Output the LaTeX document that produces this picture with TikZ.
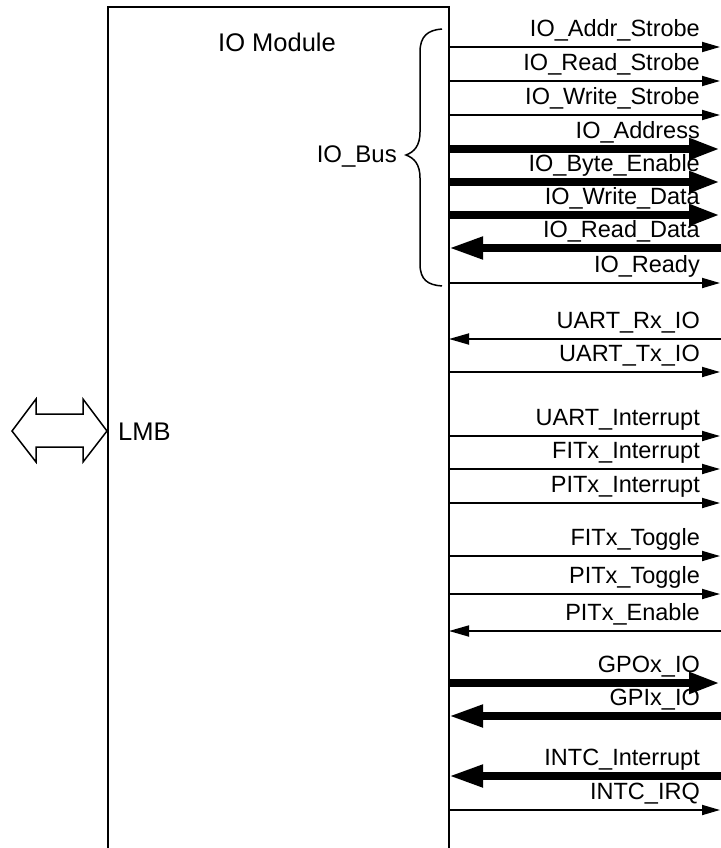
\documentclass[tikz,border=0pt]{standalone}
\usepackage{fontspec}
\setmainfont{Liberation Sans}
\usetikzlibrary{arrows.meta}
\begin{document}
\begin{tikzpicture}[x=1pt,y=-1pt,
  modbox/.style={line width=2pt},
  sigout/.style={line width=1.8pt,-{Triangle[length=18pt,width=10pt]}},
  sigin/.style={line width=1.8pt,-{Triangle[length=20pt,width=11pt]}},
  busout/.style={line width=7.5pt,-{Triangle[length=31pt,width=20pt]}},
  busin/.style={line width=7.5pt,-{Triangle[length=34pt,width=21pt]}},
  lab/.style={anchor=base east,inner sep=0pt,font=\fontsize{23.5}{27}\selectfont},
  bigtxt/.style={anchor=base west,inner sep=0pt,font=\fontsize{25.5}{30}\selectfont},
  lmbarrow/.style={line width=1.5pt,line join=miter}
]
\useasboundingbox (0,0) rectangle (720,848);
\fill[white] (0,0) rectangle (720,848);
% module box (open at bottom)
\coordinate (bl) at (108,860);
\coordinate (tl) at (108,7);
\coordinate (tr) at (449,7);
\coordinate (br) at (449,860);
\draw[modbox] (bl) -- (tl) -- (tr) -- (br);
\node[bigtxt] (title) at (218,52) {IO Module};
% LMB double arrow
\draw[lmbarrow] (12,431) -- (36,399) -- (36,414) -- (83,414) -- (83,399) -- (107,431)
  -- (83,462) -- (83,447) -- (36,447) -- (36,462) -- cycle;
\node[bigtxt] (lmb) at (118,440) {LMB};
% brace
\draw[line width=1.5pt] (442,29) .. controls (428,30) and (420,36) .. (420,52)
  -- (420,132) .. controls (420,146) and (414,152) .. (406,155)
  .. controls (414,158) and (420,164) .. (420,178)
  -- (420,264) .. controls (420,280) and (428,285) .. (442,286);
\node[lab,font=\fontsize{24}{28}\selectfont] (iobus) at (397,162) {IO\_Bus};
% signals
\foreach \n/\yy/\st in {
  s1/47/sigout,
  s2/81/sigout,
  s3/115/sigout,
  s4/149/busout,
  s5/182/busout,
  s6/215/busout,
  s8/283/sigout,
  s10/372/sigout,
  s11/436/sigout,
  s12/469/sigout,
  s13/503/sigout,
  s14/556/sigout,
  s15/594/sigout,
  s17/683/busout,
  s20/810/sigout}{
  \coordinate (\n a) at (449,\yy);
  \coordinate (\n b) at (720,\yy);
  \draw[\st] (\n a) -- (\n b);
}
\foreach \n/\yy/\st in {
  s7/248/busin,
  s9/339/sigin,
  s16/631/sigin,
  s18/716/busin,
  s19/776/busin}{
  \coordinate (\n a) at (449,\yy);
  \coordinate (\n b) at (722,\yy);
  \draw[\st] (\n b) -- (\n a);
}
\foreach \n/\yy/\txt in {
  s1/47/IO\_Addr\_Strobe,
  s2/81/IO\_Read\_Strobe,
  s3/115/IO\_Write\_Strobe,
  s4/149/IO\_Address,
  s5/182/IO\_Byte\_Enable,
  s6/215/IO\_Write\_Data,
  s7/248/IO\_Read\_Data,
  s8/283/IO\_Ready,
  s9/339/UART\_Rx\_IO,
  s10/372/UART\_Tx\_IO,
  s11/436/UART\_Interrupt,
  s12/469/FITx\_Interrupt,
  s13/503/PITx\_Interrupt,
  s14/556/FITx\_Toggle,
  s15/594/PITx\_Toggle,
  s16/631/PITx\_Enable,
  s17/683/GPOx\_IO,
  s18/716/GPIx\_IO,
  s19/776/INTC\_Interrupt,
  s20/810/INTC\_IRQ}{
  \node[lab] (\n t) at (700,\yy-10.5) {\txt};
}
\end{tikzpicture}
\end{document}
